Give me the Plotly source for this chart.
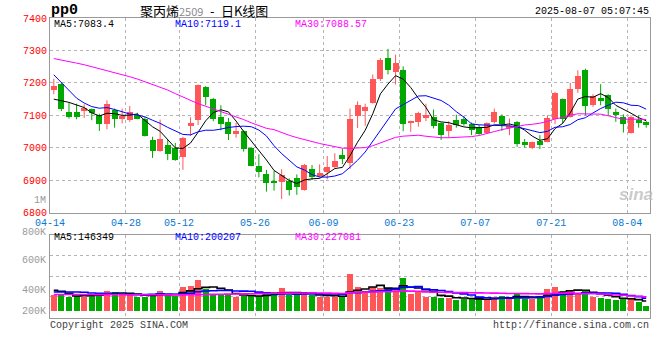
import plotly.graph_objects as go

# ---------------- data ----------------
dates = ["04-14", "04-15", "04-16", "04-17", "04-18", "04-21", "04-22", "04-23", "04-24", "04-25",
         "04-28", "04-29", "04-30",
         "05-06", "05-07", "05-08", "05-09", "05-12", "05-13", "05-14", "05-15", "05-16",
         "05-19", "05-20", "05-21", "05-22", "05-23", "05-26", "05-27", "05-28", "05-29", "05-30",
         "06-03", "06-04", "06-05", "06-06", "06-09", "06-10", "06-11", "06-12", "06-13",
         "06-16", "06-17", "06-18", "06-19", "06-20", "06-23", "06-24", "06-25", "06-26", "06-27", "06-30",
         "07-01", "07-02", "07-03", "07-04", "07-07", "07-08", "07-09", "07-10", "07-11",
         "07-14", "07-15", "07-16", "07-17", "07-18", "07-21", "07-22", "07-23", "07-24", "07-25",
         "07-28", "07-29", "07-30", "07-31", "08-01", "08-04", "08-05", "08-06"]

opens = [7177, 7198, 7111, 7111, 7114, 7119, 7100, 7072, 7118, 7090,
         7085, 7102, 7090, 7024, 6991, 7008, 6998, 6972, 7070, 7085,
         7187, 7150, 7095, 7080, 7044, 7051, 7000, 6944, 6919, 6899,
         6896, 6899, 6906, 6870, 6935, 6913, 6926, 6942, 6978, 6952,
         7098, 7114, 7139, 7211, 7277, 7233, 7239, 7078, 7080, 7093,
         7095, 7075, 7052, 7085, 7088, 7072, 7065, 7047, 7078, 7097,
         7063, 7080, 7018, 6998, 7022, 7019, 7088, 7150, 7095, 7180,
         7239, 7133, 7152, 7162, 7109, 7095, 7046, 7086, 7078]
highs = [7213, 7200, 7138, 7136, 7134, 7121, 7105, 7146, 7121, 7121,
         7129, 7108, 7095, 7034, 7087, 7024, 7015, 7034, 7094, 7195,
         7190, 7154, 7131, 7092, 7077, 7054, 7002, 6980, 6932, 6930,
         6934, 6906, 6918, 6950, 6947, 6949, 6975, 6983, 6998, 7121,
         7143, 7136, 7226, 7277, 7305, 7287, 7251, 7084, 7111, 7136,
         7118, 7078, 7082, 7102, 7098, 7078, 7070, 7078, 7121, 7103,
         7090, 7082, 7027, 7019, 7039, 7100, 7172, 7152, 7200, 7239,
         7244, 7165, 7196, 7165, 7121, 7103, 7100, 7100, 7082]
lows = [7165, 7113, 7090, 7088, 7092, 7085, 7052, 7057, 7062, 7075,
        7080, 7088, 7035, 6969, 6988, 6962, 6960, 6932, 7037, 7070,
        7131, 7082, 7054, 7024, 7031, 6988, 6943, 6909, 6865, 6868,
        6842, 6853, 6855, 6868, 6901, 6908, 6903, 6937, 6950, 6935,
        7061, 7068, 7136, 7206, 7226, 7195, 7051, 7049, 7065, 7082,
        7060, 7024, 7031, 7062, 7068, 7039, 7040, 7044, 7075, 7052,
        7039, 7003, 7001, 6996, 6996, 7017, 7073, 7075, 7093, 7169,
        7100, 7126, 7131, 7100, 7080, 7047, 7044, 7062, 7062]
closes = [7189, 7119, 7095, 7095, 7123, 7106, 7072, 7136, 7089, 7097,
          7109, 7090, 7037, 6991, 7027, 6981, 6962, 7029, 7075, 7193,
          7157, 7088, 7073, 7042, 7052, 6996, 6945, 6926, 6893, 6891,
          6916, 6870, 6880, 6947, 6909, 6923, 6942, 6959, 6965, 7090,
          7131, 7125, 7213, 7272, 7241, 7261, 7072, 7082, 7108, 7100,
          7068, 7041, 7070, 7070, 7073, 7054, 7042, 7075, 7109, 7073,
          7068, 7012, 7010, 7017, 7008, 7092, 7169, 7090, 7180, 7220,
          7130, 7159, 7145, 7120, 7100, 7073, 7095, 7077, 7072]
volumes = [267000, 261000, 229000, 240000, 229000, 283000, 283000, 320000, 304000, 253000,
           253000, 229000, 229000, 272000, 320000, 253000, 250000, 387000, 400000, 496000,
           360000, 283000, 283000, 253000, 224000, 240000, 240000, 240000, 304000, 304000,
           371000, 253000, 253000, 283000, 259000, 229000, 229000, 229000, 229000, 592000,
           387000, 320000, 387000, 366000, 371000, 366000, 531000, 272000, 304000, 227000,
           229000, 216000, 213000, 179000, 203000, 189000, 189000, 176000, 229000, 243000,
           227000, 272000, 192000, 192000, 243000, 352000, 384000, 320000, 320000, 296000,
           336000, 229000, 211000, 192000, 176000, 208000, 189000, 147000, 80000]

# moving-average values before enough bars are on screen
ma5_head = [7150, 7146, 7140, 7132]
ma10_head = [7225, 7200, 7175, 7153, 7138, 7127, 7122, 7124, 7118]
ma30_head = [7275, 7271, 7266, 7261, 7256, 7250, 7245, 7239, 7233, 7226,
             7219, 7212, 7204, 7196, 7187, 7178, 7167, 7156, 7145, 7136,
             7128, 7120, 7113, 7105, 7096, 7087, 7077, 7068, 7060]
vma5_head = [330000, 315000, 283000, 240000]
vma10_head = [304000, 304000, 304000, 304000, 299000, 288000, 283000, 280000, 275000]
vma30_head = [265000, 265000, 264000, 264000, 263000, 263000, 262000, 262000, 261000, 261000,
              260000, 260000, 259000, 259000, 259000, 258000, 258000, 258000, 260000, 262000,
              264000, 266000, 268000, 270000, 272000, 274000, 276000, 278000, 280000]

tick_dates = ["04-14", "04-28", "05-12", "05-26", "06-09", "06-23", "07-07", "07-21", "08-04"]
price_ticks = [6800, 6900, 7000, 7100, 7200, 7300, 7400]
vol_axis_labels = ["1M", "800K", "600K", "400K", "200K"]

title_code = "pp0"
title_name = "聚丙烯"
title_contract = "2509"
title_suffix = "日K线图"
timestamp = "2025-08-07 05:07:45"
ma_price_text = ["MA5:7083.4", "MA10:7119.1", "MA30:7088.57"]
ma_vol_text = ["MA5:146349", "MA10:200207", "MA30:227081"]
copyright_text = "Copyright 2025 SINA.COM"
url_text = "http://finance.sina.com.cn"

# ---------------- styling ----------------
RED = "#ff5757"
GREEN = "#00a800"
MONO = "Liberation Mono"
GRID = "#b4b4b4"
BORDER = "#9a9a9a"
MA_COLORS = ["#000000", "#0000ff", "#ff00ff"]

# pixel frame helpers (plot area: x 50..650, y 18..318)
L, R, T, B = 50, 10, 18, 42
W, H = 660, 360
PW, PH = W - L - R, H - T - B


def px_x(x):
    return (x - L) / PW


def px_y(y):
    return (H - B - y) / PH


def trailing_mean(values, n, head):
    out = list(head)
    for i in range(len(head), len(values)):
        out.append(sum(values[i - n + 1:i + 1]) / n)
    return out


n = len(dates)
idx = list(range(n))
ma5 = trailing_mean(closes, 5, ma5_head)
ma10 = trailing_mean(closes, 10, ma10_head)
ma30 = trailing_mean(closes, 30, ma30_head)
vma5 = trailing_mean(volumes, 5, vma5_head)
vma10 = trailing_mean(volumes, 10, vma10_head)
vma30 = trailing_mean(volumes, 30, vma30_head)

up = [c >= o for o, c in zip(opens, closes)]
colors = [RED if u else GREEN for u in up]

fig = go.Figure()

# candle bodies
fig.add_trace(go.Bar(
    x=idx, y=[max(abs(c - o), 3) for o, c in zip(opens, closes)],
    base=[min(o, c) for o, c in zip(opens, closes)],
    width=0.79, marker=dict(color=colors, line=dict(width=0)),
    xaxis="x", yaxis="y", hoverinfo="skip"))

# wicks
for flag, col in ((True, RED), (False, GREEN)):
    wx, wy = [], []
    for i in idx:
        if up[i] == flag:
            wx += [i, i, None]
            wy += [lows[i], highs[i], None]
    fig.add_trace(go.Scatter(x=wx, y=wy, mode="lines", line=dict(color=col, width=1),
                             xaxis="x", yaxis="y", hoverinfo="skip"))

# price moving averages
for series, col in zip((ma5, ma10, ma30), MA_COLORS):
    fig.add_trace(go.Scatter(x=idx, y=series, mode="lines", line=dict(color=col, width=1),
                             xaxis="x", yaxis="y", hoverinfo="skip"))

# volume bars
fig.add_trace(go.Bar(x=idx, y=volumes, width=0.79, marker=dict(color=colors, line=dict(width=0)),
                     xaxis="x2", yaxis="y2", hoverinfo="skip"))
for series, col in zip((vma5, vma10, vma30), MA_COLORS):
    fig.add_trace(go.Scatter(x=idx, y=series, mode="lines", line=dict(color=col, width=1.6, shape="hvh"),
                             xaxis="x2", yaxis="y2", hoverinfo="skip"))

# axes geometry
price_top_px, price_bot_px = 18, 212.7
vol_top_px, vol_bot_px, vol_zero_px = 234.7, 317.7, 311
vol_per_px = 16000
vol_range = [-(vol_bot_px - vol_zero_px) * vol_per_px, (vol_zero_px - vol_top_px) * vol_per_px]
vol_grid = [vol_range[0] + (vol_range[1] - vol_range[0]) * q for q in (0.25, 0.5, 0.75)]

tickvals_x = [dates.index(d) - 0.5 for d in tick_dates]

common_x = dict(range=[-0.5, n - 0.5], tickvals=tickvals_x, showgrid=True, gridcolor=GRID,
                griddash="dot", gridwidth=1, showline=True, mirror=True, linecolor=BORDER,
                linewidth=1, ticks="", zeroline=False, fixedrange=True)
common_y = dict(showgrid=True, gridcolor=GRID, griddash="dot", gridwidth=1, showline=True,
                mirror=True, linecolor=BORDER, linewidth=1, ticks="", zeroline=False, fixedrange=True)

fig.update_layout(
    width=W, height=H, margin=dict(l=L, r=R, t=T, b=B),
    paper_bgcolor="white", plot_bgcolor="white", showlegend=False,
    barmode="overlay", bargap=0,
    xaxis=dict(common_x, domain=[0, 1], anchor="y", ticktext=tick_dates,
               tickfont=dict(family=MONO, size=10, color="#0a78d2")),
    yaxis=dict(common_y, domain=[px_y(price_bot_px), px_y(price_top_px)], anchor="x",
               range=[price_ticks[0], price_ticks[-1]], tickvals=price_ticks,
               tickfont=dict(family=MONO, size=10, color="#ff0000")),
    xaxis2=dict(common_x, domain=[0, 1], anchor="y2", showticklabels=False),
    yaxis2=dict(common_y, domain=[px_y(vol_bot_px), px_y(vol_top_px)], anchor="x2",
                range=vol_range, tickvals=vol_grid, showticklabels=False),
)


def ann(text, x, y, color="#000000", size=10, family=MONO, xanchor="left"):
    return dict(text=text, x=px_x(x), y=px_y(y), xref="paper", yref="paper",
                xanchor=xanchor, yanchor="middle", showarrow=False, borderpad=0,
                font=dict(family=family, size=size, color=color))


anns = [
    ann("<b>" + title_code + "</b>", 50, 11, size=15),
    ann(title_name + "<span style='color:#8c8c8c;font-size:11px'>" + title_contract + "</span>"
        + "\u2002-\u2002" + title_suffix, 139, 11, size=13, family="Noto Sans CJK SC"),
    ann(timestamp, 650, 12, xanchor="right"),
    ann(copyright_text, 49, 325, color="#404040"),
    ann(url_text, 650, 325, color="#404040", xanchor="right"),
    ann("<i><b>sina</b></i>", 636, 194, color="rgba(185,185,185,0.75)", size=17,
        family="Liberation Sans", xanchor="center"),
]
for t, c, xx in zip(ma_price_text, MA_COLORS, (53, 174, 294)):
    anns.append(ann(t, xx, 24.5, color=c))
for t, c, xx in zip(ma_vol_text, MA_COLORS, (53, 174, 294)):
    anns.append(ann(t, xx, 237.5, color=c))
for t, yy in zip(vol_axis_labels, (200, 232.5, 260.7, 290.7, 311)):
    anns.append(ann(t, 47, yy, color="#9a9a9a", xanchor="right"))
fig.update_layout(annotations=anns)

fig.write_html("out.html")
